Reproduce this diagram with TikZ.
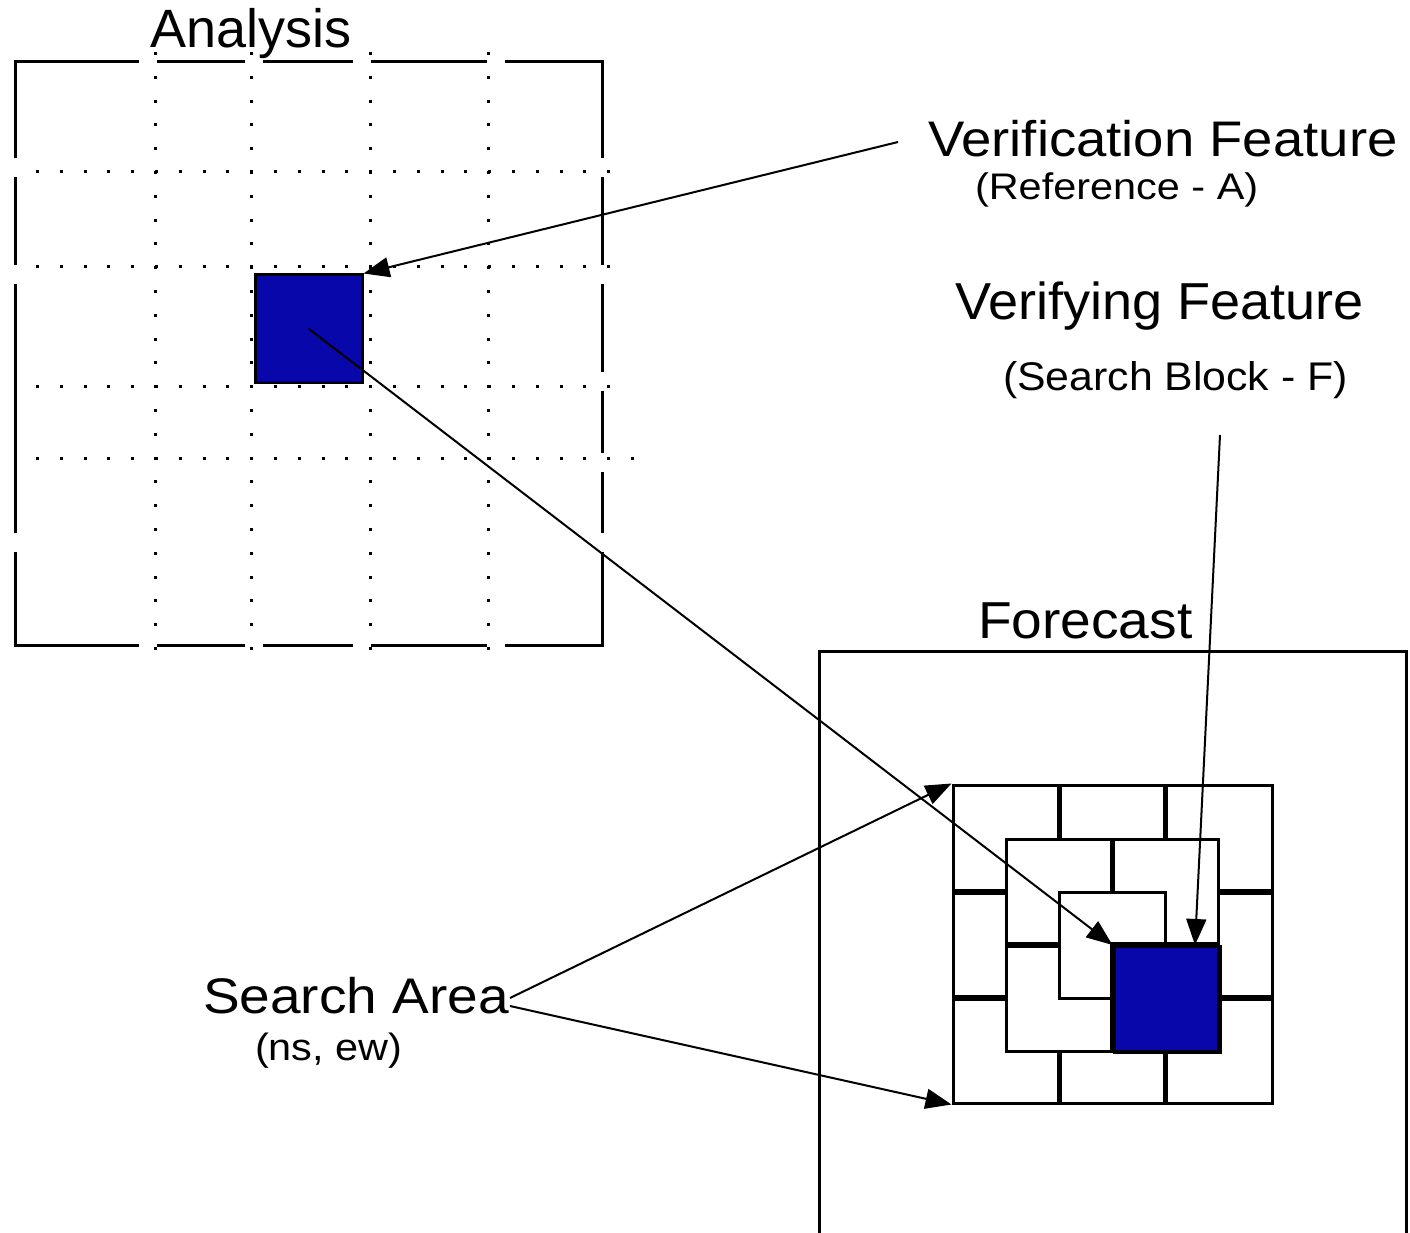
\documentclass[tikz,border=0pt]{standalone}
\usepackage{fontspec}
\setmainfont{Liberation Sans}
\usetikzlibrary{arrows.meta}
\definecolor{fillblue}{RGB}{8,8,170}
\newcommand\mylbl[3]{{\fontsize{#1}{#1}\selectfont\scalebox{#2}[1]{#3}}}
\begin{document}
\begin{tikzpicture}[x=1pt,y=-1pt,
  framebox/.style={line width=3pt},
  dotline/.style={line width=3pt, dash pattern=on 3pt off 20.8pt},
  conn/.style={line width=2pt, -{Triangle[length=26pt,width=20pt]}},
  lab/.style={anchor=base west, inner sep=0pt, outer sep=0pt},
  bluesq/.style={draw=black, line width=3pt, fill=fillblue, minimum size=#1, inner sep=0pt},
  thickdiv/.style={line width=5.5pt},
  thinbox/.style={draw, line width=3pt, inner sep=0pt}
]
\useasboundingbox[fill=white] (0,0) rectangle (1410,1233);

% ---------------- Analysis panel ----------------
\draw[framebox] (15,62) rectangle (602,645);
\foreach \x in {139,245,353,487} {
  \fill[white] (\x,55) rectangle (\x+18,69);
  \fill[white] (\x,638) rectangle (\x+18,652);
}
\foreach \y in {158,265,533} \fill[white] (8,\y) rectangle (22,\y+19);
\foreach \y in {158,265,372,453,533} \fill[white] (595,\y) rectangle (609,\y+19);

\foreach \x in {155,251,370,488} \draw[dotline] (\x,52) -- (\x,652);
\foreach \y in {172,267,386} \draw[dotline] (36,\y) -- (612,\y);
\draw[dotline] (36,458) -- (636,458);

\node[bluesq=107pt] (ablue) at (308.5,328.5) {};
\node[lab] (tana) at (150,48) {\mylbl{54}{1}{Analysis}};

% ---------------- Forecast panel ----------------
\draw[framebox] (819,1240) -- (819,651) -- (1406,651) -- (1406,1240);
\node[lab] (tfc) at (978,638) {\mylbl{52}{1.06}{Forecast}};

\coordinate (C) at (1112.5,945);
\node[thinbox, minimum size=106pt] (inner) at (C) {};
\node[bluesq=106pt, anchor=north west] (fblue) at (C) {};

% thick dividers
\draw[thickdiv] (1059.5,786) -- (1059.5,839);
\draw[thickdiv] (1165.5,786) -- (1165.5,839);
\draw[thickdiv] (1059.5,1051) -- (1059.5,1104);
\draw[thickdiv] (1165.5,1051) -- (1165.5,1104);
\draw[thickdiv] (953.5,892) -- (1006.5,892);
\draw[thickdiv] (953.5,998) -- (1006.5,998);
\draw[thickdiv] (1218.5,892) -- (1271.5,892);
\draw[thickdiv] (1218.5,998) -- (1271.5,998);
\draw[thickdiv] (1112.5,839) -- (1112.5,892);
\draw[thickdiv] (1006.5,945) -- (1059.5,945);
\draw[thickdiv] (1112.5,1051) -- (1112.5,945) -- (1218.5,945);

\node[thinbox, minimum size=212pt] (middle) at (C) {};
\node[thinbox, minimum width=319pt, minimum height=318pt] (outer) at (1112.5,944) {};

% ---------------- Labels ----------------
\node[lab] (tvf) at (928,157) {\mylbl{50}{1.09}{Verification Feature}};
\node[lab] (tref) at (975,200) {\mylbl{37}{1.12}{(Reference - A)}};
\node[lab] (tvg) at (955,319) {\mylbl{52}{1.04}{Verifying Feature}};
\node[lab] (tsb) at (1003,390) {\mylbl{40}{1.07}{(Search Block - F)}};
\node[lab] (tsa) at (203,1013) {\mylbl{50}{1.1}{Search Area}};
\node[lab] (tns) at (255,1060) {\mylbl{38}{1.09}{(ns, ew)}};

% ---------------- Connectors ----------------
\coordinate (vfstart) at (898,142);
\coordinate (vgstart) at (1220,435);
\coordinate (sa1) at (510,998);
\coordinate (sa2) at (510,1006);
\draw[conn] (vfstart) -- (ablue.north east);
\draw[conn] (ablue.center) -- (fblue.north west);
\draw[conn] (vgstart) -- ([xshift=28pt]fblue.north);
\draw[conn] (sa1) -- (outer.north west);
\draw[conn] (sa2) -- (outer.south west);
\end{tikzpicture}
\end{document}
